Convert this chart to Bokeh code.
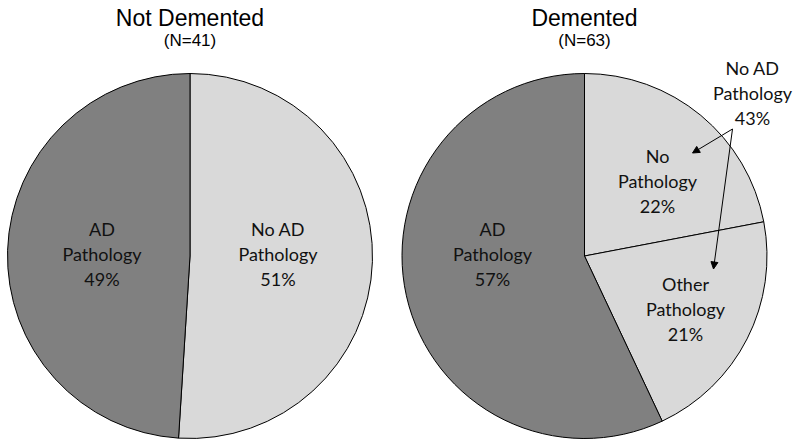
import math
from bokeh.plotting import figure
from bokeh.models import Range1d, Arrow, NormalHead, ColumnDataSource
from bokeh.core.properties import value
from bokeh.embed import file_html
from bokeh.resources import INLINE

# ---------------- data ----------------
groups = ["Not Demented", "Demented"]
group_n = [41, 63]

nd_categories = ["No AD Pathology", "AD Pathology"]
nd_values = [51, 49]

d_categories = ["No Pathology", "Other Pathology", "AD Pathology"]
d_values = [22, 21, 57]

LIGHT = "#d9d9d9"
DARK = "#808080"
nd_colors = [LIGHT, DARK]
d_colors = [LIGHT, LIGHT, DARK]

# ---------------- layout ----------------
W, H = 800, 446
R = 182.5
centers = [(189.5, 190.5), (584.0, 190.5)]

p = figure(width=W, height=H, output_backend="svg", toolbar_location=None,
           x_range=Range1d(0, W), y_range=Range1d(0, H), min_border=0)
p.axis.visible = False
p.grid.visible = False
p.outline_line_color = None
p.background_fill_color = "white"
p.border_fill_color = "white"


def add_pie(cx, cy, vals, cols):
    total = float(sum(vals))
    starts, ends = [], []
    a = math.pi / 2
    for v in vals:
        b = a - 2 * math.pi * v / total
        starts.append(a)
        ends.append(b)
        a = b
    src = ColumnDataSource(dict(x=[cx] * len(vals), y=[cy] * len(vals),
                                start=starts, end=ends, color=cols))
    p.wedge(x="x", y="y", radius=R, radius_units="screen",
            start_angle="start", end_angle="end", direction="clock",
            fill_color="color", line_color="black", line_width=1, source=src)


add_pie(*centers[0], nd_values, nd_colors)
add_pie(*centers[1], d_values, d_colors)

TITLE_FONT = value("Liberation Sans")
LABEL_FONT = value("Lato")


def put(x, y, txt, size, font, color="black"):
    p.text(x=[x], y=[y], text=[txt], text_font=font, text_font_size=size,
           text_align="center", text_baseline="middle", text_color=color)


# titles
for (cx, cy), g, n in zip(centers, groups, group_n):
    put(cx, 429, g, "23px", TITLE_FONT)
    put(cx, 406.5, f"(N={n})", "17px", TITLE_FONT)

LINE = 25


def label_block(x, ytop, lines):
    for i, ln in enumerate(lines):
        put(x, ytop - i * LINE, ln, "18px", LABEL_FONT, "#111111")


cx0, cy0 = centers[0]
cx1, cy1 = centers[1]

label_block(cx0 - 88, cy0 + 27, ["AD", "Pathology", f"{nd_values[1]}%"])
label_block(cx0 + 88, cy0 + 27, ["No AD", "Pathology", f"{nd_values[0]}%"])

label_block(cx1 - 92, cy1 + 27, ["AD", "Pathology", f"{d_values[2]}%"])
label_block(cx1 + 73, cy1 + 100, ["No", "Pathology", f"{d_values[0]}%"])
label_block(cx1 + 101, cy1 - 28, ["Other", "Pathology", f"{d_values[1]}%"])
label_block(cx1 + 168, cy1 + 188, ["No AD", "Pathology", f"{d_values[0] + d_values[1]}%"])

# arrows from the combined label
ax, ay = cx1 + 148, cy1 + 127
for tx, ty in [(cx1 + 108, cy1 + 103), (cx1 + 129, cy1 - 13)]:
    p.add_layout(Arrow(end=NormalHead(size=7, line_color="black", fill_color="black",
                                      line_width=1),
                       x_start=ax, y_start=ay, x_end=tx, y_end=ty,
                       line_color="black", line_width=1))

open("out.html", "w").write(file_html(p, INLINE))
